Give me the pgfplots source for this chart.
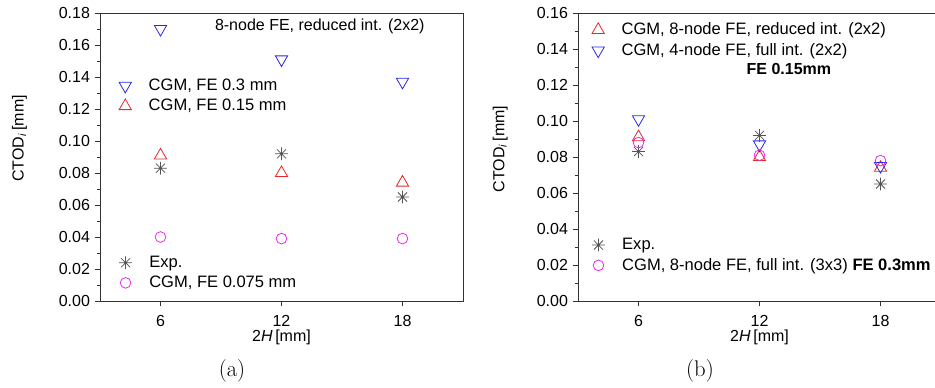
\documentclass[border=0pt]{standalone}
\usepackage{fontspec}
\usepackage{pgfplots}
\pgfplotsset{compat=1.18}
\newfontfamily\arial{Liberation Sans}

% eight-armed asterisk for the experimental points
\pgfdeclareplotmark{ast8}{%
  \pgfpathmoveto{\pgfqpoint{-\pgfplotmarksize}{0pt}}%
  \pgfpathlineto{\pgfqpoint{\pgfplotmarksize}{0pt}}%
  \pgfpathmoveto{\pgfqpoint{0pt}{-\pgfplotmarksize}}%
  \pgfpathlineto{\pgfqpoint{0pt}{\pgfplotmarksize}}%
  \pgfpathmoveto{\pgfqpoint{-0.707\pgfplotmarksize}{-0.707\pgfplotmarksize}}%
  \pgfpathlineto{\pgfqpoint{0.707\pgfplotmarksize}{0.707\pgfplotmarksize}}%
  \pgfpathmoveto{\pgfqpoint{-0.707\pgfplotmarksize}{0.707\pgfplotmarksize}}%
  \pgfpathlineto{\pgfqpoint{0.707\pgfplotmarksize}{-0.707\pgfplotmarksize}}%
  \pgfusepathqstroke}

\definecolor{cblue}{RGB}{40,40,225}
\definecolor{cred}{RGB}{230,40,40}
\definecolor{cmag}{RGB}{235,40,235}
\definecolor{cgray}{RGB}{85,85,85}

\newcommand{\figfont}{\arial\fontsize{12}{14}\selectfont}
\newcommand{\legfont}{\arial\fontsize{12.4}{14}\selectfont}

\pgfplotsset{
  legstyle/.style={
    legend style={draw=none, fill=none, font=\legfont, row sep=1pt,
      /tikz/every odd column/.append style={column sep=11pt}},
    legend cell align=left,
  },
  panel/.style={
    scale only axis, width=272.25pt, height=216pt,
    anchor=south west,
    xmin=3, xmax=21, xtick={6,12,18}, ymin=0,
    tick pos=left, tick align=outside,
    minor y tick num=1,
    major tick length=4pt, minor tick length=2.2pt,
    axis line style={black!80, line width=0.7pt},
    every tick/.style={black!80, line width=0.6pt},
    font=\figfont,
    /pgf/number format/assume math mode=true,
    y tick label style={/pgf/number format/.cd, fixed, fixed zerofill, precision=2},
    x tick label style={yshift=-3.5pt},
    xlabel={2\textit{H}\,[mm]},
    ylabel={CTOD\textsubscript{\textit{i}}\,[mm]},
    xlabel style={yshift=4.5pt},
    legstyle,
  },
  legendonly/.style={
    scale only axis, width=272.25pt, height=216pt, anchor=south west,
    xmin=3, xmax=21, ymin=0, hide axis,
    legstyle,
  },
  mblue/.style={only marks, mark=triangle, mark size=5.3pt,
    mark options={rotate=180, draw=cblue, line width=0.6pt, fill=none}},
  mred/.style={only marks, mark=triangle, mark size=5.3pt,
    mark options={draw=cred, line width=0.6pt, fill=none}},
  mmag/.style={only marks, mark=o, mark size=4pt,
    mark options={draw=cmag, line width=0.6pt}},
  mexp/.style={only marks, mark=ast8, mark size=4.8pt,
    mark options={draw=cgray, line width=0.55pt}},
}

\begin{document}
\begin{tikzpicture}
\useasboundingbox (0,0) rectangle (701.25pt,290.25pt);

% ---------- (a) mesh size study ----------
\begin{axis}[panel, at={(75pt,64.5pt)}, ymax=0.18, ytick={0,0.02,...,0.18},
  ylabel style={yshift=17pt, xshift=14pt},
  legend style={at={(0.041,0.79)}, anchor=north west}]
\addplot[mblue] coordinates {(6,0.170) (12,0.151) (18,0.137)};
\addlegendentry{CGM, FE 0.3 mm}
\addplot[mred] coordinates {(6,0.091) (12,0.080) (18,0.074)};
\addlegendentry{CGM, FE 0.15 mm}
\addplot[mexp, forget plot] coordinates {(6,0.083) (12,0.092) (18,0.065)};
\addplot[mmag, forget plot] coordinates {(6,0.040) (12,0.039) (18,0.039)};
\node[font=\figfont] at (axis cs:13.9,0.1719) {8-node FE, reduced int. (2x2)};
\end{axis}
\begin{axis}[legendonly, at={(75pt,64.5pt)}, ymax=0.18,
  legend style={at={(0.041,0.02)}, anchor=south west}]
\addlegendimage{mexp}
\addlegendentry{Exp.}
\addlegendimage{mmag}
\addlegendentry{CGM, FE 0.075 mm}
\end{axis}

% ---------- (b) element type study ----------
\begin{axis}[panel, at={(433.5pt,64.5pt)}, ymax=0.16, ytick={0,0.02,...,0.16},
  ylabel style={yshift=15pt, xshift=6pt},
  legend style={at={(0.027,0.985)}, anchor=north west}]
\addplot[mred] coordinates {(6,0.091) (12,0.080) (18,0.074)};
\addlegendentry{CGM, 8-node FE, reduced int. (2x2)}
\addplot[mblue] coordinates {(6,0.101) (12,0.087) (18,0.075)};
\addlegendentry{CGM, 4-node FE, full int. (2x2)}
\addplot[mexp, forget plot] coordinates {(6,0.083) (12,0.092) (18,0.065)};
\addplot[mmag, forget plot] coordinates {(6,0.088) (12,0.081) (18,0.078)};
\node[font=\figfont\bfseries] at (axis cs:13.46,0.1289) {FE 0.15mm};
\end{axis}
\begin{axis}[legendonly, at={(433.5pt,64.5pt)}, ymax=0.16,
  legend style={at={(0.027,0.08)}, anchor=south west}]
\addlegendimage{mexp}
\addlegendentry{Exp.}
\addlegendimage{mmag}
\addlegendentry{CGM, 8-node FE, full int. (3x3) \textbf{FE 0.3mm}}
\end{axis}

% ---------- sub-figure captions ----------
\node[font=\fontsize{17}{19}\selectfont] at (174pt,12pt) {(a)};
\node[font=\fontsize{17}{19}\selectfont] at (525pt,12pt) {(b)};
\end{tikzpicture}
\end{document}
